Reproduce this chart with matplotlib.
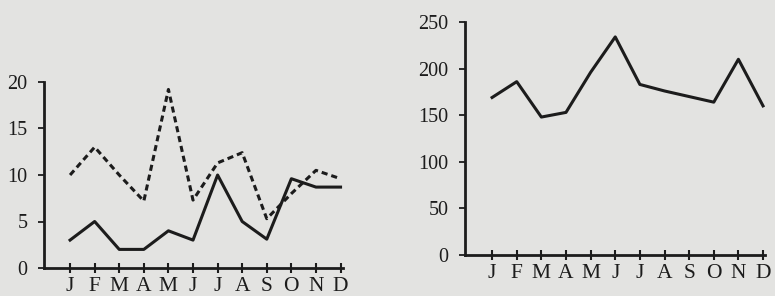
import matplotlib.pyplot as plt
import numpy as np

months = ['J', 'F', 'M', 'A', 'M', 'J', 'J', 'A', 'S', 'O', 'N', 'D']

# left panel: monthly mean of broken engagements
peace = [3, 5, 2, 2, 4, 3, 10, 5, 3.1, 9.6, 8.7, 8.7]      # solid
war = [10, 13, 10, 7.2, 19.2, 7.3, 11.3, 12.4, 5.3, 8, 10.5, 9.6]  # dashed

# right panel: totals
total = [169, 186, 148, 153, 196, 234, 183, 176, 170, 164, 210, 160]

ink = '#1c1c1c'
paper = '#e3e3e1'

plt.rcParams['font.family'] = ['Liberation Serif', 'DejaVu Serif']

fig = plt.figure(figsize=(7.75, 2.96), dpi=100, facecolor=paper)

ax1 = fig.add_axes([44/775, 28/296, 299/775, 186/296])
ax2 = fig.add_axes([465/775, 41/296, 300/775, 233/296])

x = np.arange(12)

ax1.plot(x, peace, color=ink, lw=2.2)
ax1.plot(x, war, color=ink, lw=2.2, dashes=(2.0, 1.3))
ax1.set_xlim(-1.06, 11.1)
ax1.set_ylim(0, 20)
ax1.set_yticks([0, 5, 10, 15, 20])

ax2.plot(x, total, color=ink, lw=2.2)
ax2.set_xlim(-1.1, 11.08)
ax2.set_ylim(0, 250)
ax2.set_yticks([0, 50, 100, 150, 200, 250])

for ax in (ax1, ax2):
    ax.set_facecolor('none')
    for s in ('top', 'right'):
        ax.spines[s].set_visible(False)
    for s in ('left', 'bottom'):
        ax.spines[s].set_color(ink)
        ax.spines[s].set_linewidth(2.0)
    ax.set_xticks(x)
    ax.set_xticklabels(months)
    ax.tick_params(axis='x', direction='inout', length=7, width=1.5,
                   colors=ink, labelsize=15.5, pad=3)
    ax.tick_params(axis='y', direction='out', length=4, width=1.3,
                   colors=ink, labelsize=14.5, pad=8)

fig.savefig('out.png', dpi=100, facecolor=paper)
